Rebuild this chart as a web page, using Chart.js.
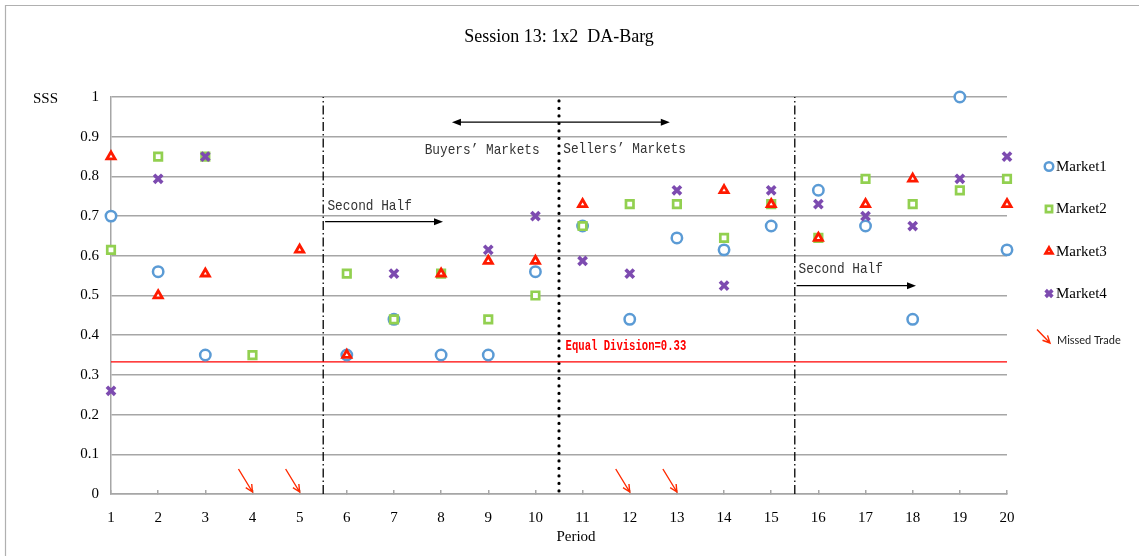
<!DOCTYPE html>
<html lang="en">
<head>
<meta charset="UTF-8" />
<title>Session 13: 1x2 DA-Barg</title>
<script src="https://cdn.jsdelivr.net/npm/chart.js"></script>
<style>
  html, body { margin: 0; padding: 0; background: #fff; }
  #wrap { width: 1139px; height: 556px; }
</style>
</head>
<body>
<div id="wrap"><canvas id="sssChart" width="1139" height="556"></canvas></div>

<script>
// values (null = no point shown)
const periods = [1, 2, 3, 4, 5, 6, 7, 8, 9, 10, 11, 12, 13, 14, 15, 16, 17, 18, 19, 20];
const market1 = [0.70, 0.56, 0.35, null, null, 0.35, 0.44, 0.35, 0.35, 0.56, 0.675, 0.44, 0.645, 0.615, 0.675, 0.765, 0.675, 0.44, 1.0, 0.615];
const market2 = [0.615, 0.85, 0.85, 0.35, null, 0.555, 0.44, 0.555, 0.44, 0.50, 0.675, 0.73, 0.73, 0.645, 0.73, 0.645, 0.794, 0.73, 0.765, 0.794];
const market3 = [0.85, 0.50, 0.555, null, 0.615, 0.35, null, 0.555, 0.587, 0.587, 0.73, null, null, 0.765, 0.73, 0.645, 0.73, 0.794, null, 0.73];
const market4 = [0.26, 0.794, 0.85, null, null, null, 0.555, null, 0.615, 0.70, 0.587, 0.555, 0.765, 0.525, 0.765, 0.73, 0.70, 0.675, 0.794, 0.85];
const missedTradePeriods = [4, 5, 12, 13];
const equalDivision = 0.333;
const halfBreaks = [5.5, 15.5];
const marketBreak = 10.5;
const xTickLabels = periods.map(String);
const yTickLabels = ['0', '0.1', '0.2', '0.3', '0.4', '0.5', '0.6', '0.7', '0.8', '0.9', '1'];

const serif = '"Liberation Serif", "Times New Roman", serif';
const mono = '"Liberation Mono", "DejaVu Sans Mono", monospace';
const gridGray = '#a6a6a6';

Chart.defaults.font.family = serif;
Chart.defaults.color = '#000';

function marketSet(label, values, style, color, radius, width, order) {
  return {
    label: label,
    order: order,
    clip: false,
    data: periods.map((p, i) => ({ x: p, y: values[i] })).filter(pt => pt.y !== null),
    pointStyle: style,
    pointRadius: radius,
    pointHoverRadius: radius,
    pointBorderWidth: width,
    pointHoverBorderWidth: width,
    pointBorderColor: color,
    pointBackgroundColor: '#ffffff',
    borderColor: color,
    backgroundColor: '#ffffff'
  };
}

function guideSet(xs, ys, color, width, dash, cap) {
  return {
    label: '',
    guide: true,
    order: 10,
    clip: false,
    showLine: true,
    pointRadius: 0,
    pointHoverRadius: 0,
    borderColor: color,
    borderWidth: width,
    borderDash: dash,
    borderCapStyle: cap,
    data: [{ x: xs[0], y: ys[0] }, { x: xs[1], y: ys[1] }]
  };
}

function putText(ctx, text, x, y, font, color, align, sx) {
  ctx.save();
  ctx.font = font;
  ctx.fillStyle = color;
  ctx.textAlign = align || 'left';
  ctx.textBaseline = 'middle';
  ctx.translate(x, y);
  ctx.scale(sx || 1, 1);
  ctx.fillText(text, 0, 0);
  ctx.restore();
}

function headAt(ctx, x, y, dir) {
  ctx.beginPath();
  ctx.moveTo(x, y);
  ctx.lineTo(x - dir * 9, y - 3.5);
  ctx.lineTo(x - dir * 9, y + 3.5);
  ctx.closePath();
  ctx.fill();
}

function redArrow(ctx, x0, y0, x1, y1) {
  const a = Math.atan2(y1 - y0, x1 - x0);
  ctx.beginPath();
  ctx.moveTo(x0, y0);
  ctx.lineTo(x1, y1);
  ctx.moveTo(x1 - 8 * Math.cos(a - 0.45), y1 - 8 * Math.sin(a - 0.45));
  ctx.lineTo(x1, y1);
  ctx.lineTo(x1 - 8 * Math.cos(a + 0.45), y1 - 8 * Math.sin(a + 0.45));
  ctx.stroke();
}

const overlay = {
  id: 'overlay',
  beforeDraw(chart) {
    const ctx = chart.ctx;
    ctx.save();
    ctx.strokeStyle = '#b0b0b0';
    ctx.lineWidth = 1.2;
    ctx.beginPath();
    ctx.moveTo(5.5, chart.height);
    ctx.lineTo(5.5, 5.5);
    ctx.lineTo(chart.width, 5.5);
    ctx.stroke();
    ctx.restore();
  },
  afterDatasetsDraw(chart) {
    const ctx = chart.ctx;
    const xs = chart.scales.x, ys = chart.scales.y;
    const px = v => xs.getPixelForValue(v);
    const py = v => ys.getPixelForValue(v);
    ctx.save();
    ctx.strokeStyle = '#000';
    ctx.fillStyle = '#000';
    ctx.lineWidth = 1.3;

    // buyers / sellers double arrow
    let y = py(0.9365);
    ctx.beginPath();
    ctx.moveTo(px(8.23) + 6, y);
    ctx.lineTo(px(12.85) - 6, y);
    ctx.stroke();
    headAt(ctx, px(8.23), y, -1);
    headAt(ctx, px(12.85), y, 1);

    // second half arrows
    [[5.54, 8.04, 0.686], [15.54, 18.07, 0.5247]].forEach(([a, b, v]) => {
      const yy = py(v);
      ctx.beginPath();
      ctx.moveTo(px(a), yy);
      ctx.lineTo(px(b) - 6, yy);
      ctx.stroke();
      headAt(ctx, px(b), yy, 1);
    });

    const labFont = '15px ' + mono;
    putText(ctx, 'Buyers’ Markets', px(10.09), py(0.8665), labFont, '#333', 'right', 0.852);
    putText(ctx, 'Sellers’ Markets', px(10.59), py(0.868), labFont, '#333', 'left', 0.852);
    putText(ctx, 'Second Half', px(5.59), py(0.7254), labFont, '#333', 'left', 0.852);
    putText(ctx, 'Second Half', px(15.58), py(0.5668), labFont, '#333', 'left', 0.852);
    putText(ctx, 'Equal Division=0.33', px(10.64), py(0.371), 'bold 14px ' + mono, '#ff0000', 'left', 0.756);

    // missed trades
    ctx.strokeStyle = '#ff2a00';
    ctx.lineWidth = 1.4;
    missedTradePeriods.forEach(p => {
      const tx = px(p), ty = py(0) - 2;
      redArrow(ctx, tx - 14, ty - 23, tx, ty);
    });
    ctx.restore();
  },
  afterDraw(chart) {
    const ctx = chart.ctx;
    putText(ctx, 'SSS', 45.5, 99, '15px ' + serif, '#000', 'center');
    putText(ctx, 'Period', 576, 537, '15px ' + serif, '#000', 'center');

    // legend
    const rows = [166.5, 209, 251.5, 293.5];
    const markets = chart.data.datasets.filter(d => !d.guide);
    markets.forEach((ds, i) => {
      ctx.save();
      ctx.strokeStyle = ds.pointBorderColor;
      ctx.fillStyle = ds.pointBackgroundColor;
      ctx.lineWidth = ds.pointBorderWidth;
      Chart.helpers.drawPoint(ctx, {
        pointStyle: ds.pointStyle,
        radius: ds.pointRadius * 0.82,
        borderWidth: ds.pointBorderWidth,
        rotation: 0
      }, 1049, rows[i]);
      ctx.restore();
      putText(ctx, ds.label, 1056, rows[i] + 0.5, '15px ' + serif, '#000', 'left');
    });
    ctx.save();
    ctx.strokeStyle = '#ff2a00';
    ctx.lineWidth = 1.4;
    redArrow(ctx, 1037, 329.5, 1050, 343);
    ctx.restore();
    putText(ctx, 'Missed Trade', 1057, 340.5, '11px Lato, "Open Sans", sans-serif', '#222', 'left');
  }
};

const ctx = document.getElementById('sssChart').getContext('2d');
new Chart(ctx, {
  type: 'scatter',
  data: {
    datasets: [
      marketSet('Market1', market1, 'circle', '#5b9bd5', 5.2, 2.5, 4),
      marketSet('Market2', market2, 'rect', '#92d050', 5.3, 2.7, 3),
      marketSet('Market3', market3, 'triangle', '#ff1a00', 4.7, 2.8, 2),
      marketSet('Market4', market4, 'crossRot', '#7d4bb0', 5.8, 3.6, 1),
      guideSet([1, 20], [equalDivision, equalDivision], '#ff0000', 1.2, [], 'butt'),
      guideSet([halfBreaks[0], halfBreaks[0]], [0, 1], '#000', 1.3, [9, 3, 1.5, 3], 'butt'),
      guideSet([halfBreaks[1], halfBreaks[1]], [0, 1], '#000', 1.3, [9, 3, 1.5, 3], 'butt'),
      guideSet([marketBreak, marketBreak], [0.99, 0], '#000', 3.2, [0, 7.5], 'round')
    ]
  },
  options: {
    responsive: false,
    animation: false,
    events: [],
    layout: { padding: { top: 0, right: 132, bottom: 0, left: 0 } },
    plugins: {
      legend: { display: false },
      tooltip: { enabled: false },
      title: {
        display: true,
        text: 'Session 13: 1x2  DA-Barg',
        fullSize: false,
        color: '#000',
        font: { family: serif, size: 18, weight: 'normal' },
        padding: { top: 26, bottom: 49.4 }
      }
    },
    scales: {
      x: {
        type: 'linear',
        min: 1,
        max: 20,
        afterFit: s => { s.height = 62; },
        grid: { drawOnChartArea: false, drawTicks: true, tickLength: -4, color: gridGray, lineWidth: 1.5 },
        border: { display: true, color: gridGray, width: 1.5 },
        ticks: {
          stepSize: 1,
          autoSkip: false,
          maxRotation: 0,
          padding: 19,
          color: '#000',
          font: { family: serif, size: 15 },
          callback: (v, i) => xTickLabels[i]
        }
      },
      y: {
        min: 0,
        max: 1,
        afterFit: s => { s.width = 111; },
        grid: { drawTicks: false, color: gridGray, lineWidth: 1.5 },
        border: { display: true, color: gridGray, width: 1.5 },
        ticks: {
          stepSize: 0.1,
          padding: 12,
          color: '#000',
          font: { family: serif, size: 15 },
          callback: (v, i) => yTickLabels[i]
        }
      }
    }
  },
  plugins: [overlay]
});
</script>
</body>
</html>
